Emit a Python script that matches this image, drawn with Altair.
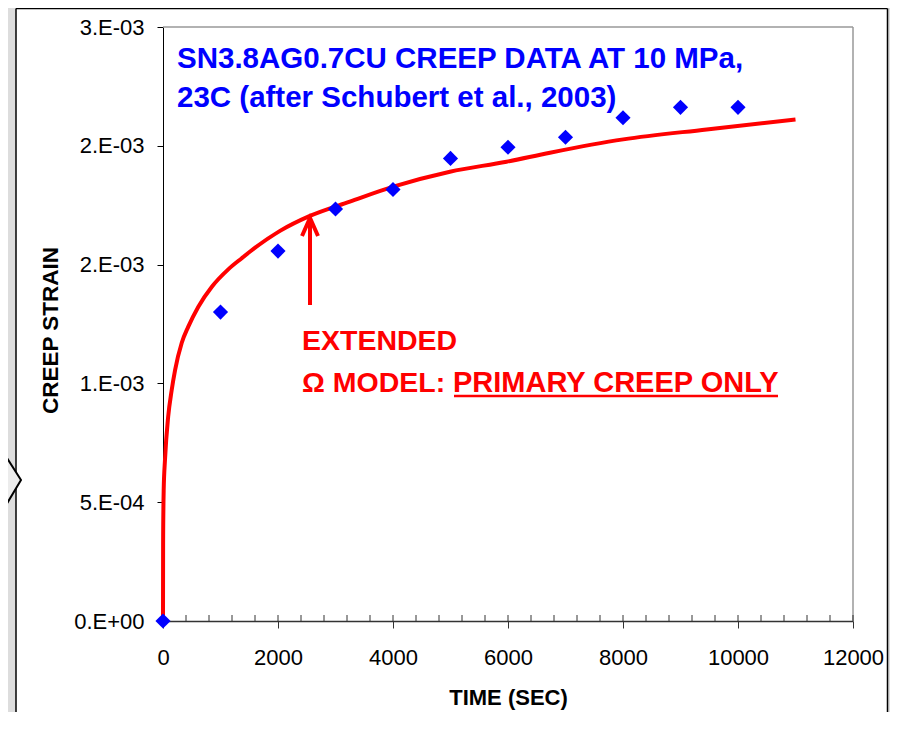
import altair as alt
import pandas as pd

# ---- data ----
data_time = [0, 1000, 2000, 3000, 4000, 5000, 6000, 7000, 8000, 9000, 10000]
data_strain = [0.0, 0.00130, 0.001557, 0.001734, 0.001816, 0.001947, 0.001994,
               0.002036, 0.002118, 0.002162, 0.002162]

model_time = [0, 2, 12, 35, 90, 150, 210, 325, 440, 615, 850, 1135, 1370, 1515,
              2035, 2555, 3250, 4005, 4990, 5975, 6730, 8005, 9455, 11000]
model_strain = [0.0, 0.00033, 0.00055, 0.00068, 0.00086, 0.00097, 0.001056,
                0.00117, 0.001239, 0.001323, 0.001407, 0.00148, 0.001527,
                0.001555, 0.001642, 0.001705, 0.001765, 0.001828, 0.001891,
                0.001933, 0.001971, 0.002027, 0.002069, 0.002111]

x_ticks = [0, 2000, 4000, 6000, 8000, 10000, 12000]
x_minor = list(range(400, 12001, 400))
y_ticks = [0.0, 0.0005, 0.001, 0.0015, 0.002, 0.0025]
y_tick_labels = ["0.E+00", "5.E-04", "1.E-03", "2.E-03", "2.E-03", "3.E-03"]

title_lines = ["SN3.8AG0.7CU CREEP DATA AT 10 MPa,", "23C (after Schubert et al., 2003)"]
note_line1 = "EXTENDED"
note_line2a = "\u03a9 MODEL:"
note_line2b = "PRIMARY CREEP ONLY"

W, H = 690, 594
FONT = "Liberation Sans"
BLUE = "#0000FF"
RED = "#FF0000"

pts = pd.DataFrame({"t": data_time, "s": data_strain})
model = pd.DataFrame({"t": model_time, "s": model_strain})
one = pd.DataFrame({"k": [0]})
minor = pd.DataFrame({"t": x_minor})

label_expr = "[" + ",".join("'%s'" % l for l in y_tick_labels) + "][round(datum.value/0.0005)]"

xscale = alt.Scale(domain=[0, 12000], nice=False, zero=False)
yscale = alt.Scale(domain=[0, 0.0025], nice=False)

xaxis = alt.Axis(values=x_ticks, format="d", title="TIME (SEC)", grid=False, labelFont=FONT,
                 labelFontSize=22, labelColor="black", labelPadding=19,
                 labelFlush=False, labelOverlap=False, tickSize=7, tickColor="#333333",
                 domainColor="#333333", domainWidth=1.5, titleFont=FONT,
                 titleFontSize=22, titleFontWeight="bold", titleColor="black",
                 titleY=83, titleBaseline="alphabetic")
yaxis = alt.Axis(values=y_ticks, labelExpr=label_expr, title="CREEP STRAIN", grid=False,
                 labelFont=FONT, labelFontSize=22, labelColor="black", labelPadding=13,
                 tickSize=6, tickColor="black", domainColor="black", domainWidth=1,
                 titleFont=FONT, titleFontSize=22.5, titleFontWeight="bold",
                 titleColor="black", titleX=-106, titleY=303, titleBaseline="alphabetic",
                 labelOverlap=False)

# ---- decorations (slide frame) ----
left_strip = alt.Chart(one).mark_rect(color="#dddddd").encode(
    x=alt.value(-160), x2=alt.value(-147), y=alt.value(-25), y2=alt.value(720))
right_strip = alt.Chart(one).mark_rect(color="#dddddd").encode(
    x=alt.value(725), x2=alt.value(760), y=alt.value(-25), y2=alt.value(720))
frame_l = alt.Chart(one).mark_rule(color="black", strokeWidth=1.5).encode(
    x=alt.value(-147), y=alt.value(-18.5), y2=alt.value(720))
frame_r = alt.Chart(one).mark_rule(color="black", strokeWidth=1.5).encode(
    x=alt.value(724.5), y=alt.value(-18.5), y2=alt.value(720))
frame_t = alt.Chart(one).mark_rule(color="black", strokeWidth=1.5).encode(
    x=alt.value(-147), x2=alt.value(724.5), y=alt.value(-18.5))
side_arrow = alt.Chart(one).mark_point(
    shape="M0,0L-25,-39.3L-25,41.7Z", size=4, filled=True, fill="#ececec",
    stroke="black", strokeWidth=2, opacity=1).encode(
    x=alt.value(-142), y=alt.value(453))

# ---- plot frame (top / right) ----
box_t = alt.Chart(one).mark_rule(color="#999999", strokeWidth=1.5).encode(
    x=alt.value(0), x2=alt.value(W), y=alt.value(0))
box_r = alt.Chart(one).mark_rule(color="#999999", strokeWidth=1.5).encode(
    x=alt.value(W), y=alt.value(0), y2=alt.value(H))

minor_ticks = alt.Chart(minor).mark_rule(color="#333333", strokeWidth=1).encode(
    x=alt.X("t:Q", scale=xscale, axis=xaxis), y=alt.value(H - 6), y2=alt.value(H))

line = alt.Chart(model).mark_line(color=RED, strokeWidth=4, interpolate="monotone").encode(
    x=alt.X("t:Q", scale=xscale, axis=xaxis),
    y=alt.Y("s:Q", scale=yscale, axis=yaxis))

points = alt.Chart(pts).mark_point(shape="diamond", filled=True, size=230,
                                   color=BLUE, opacity=1).encode(
    x=alt.X("t:Q", scale=xscale, axis=xaxis),
    y=alt.Y("s:Q", scale=yscale, axis=yaxis))

def txt(s, x, y, color, size):
    return alt.Chart(one).mark_text(text=s, font=FONT, fontSize=size, fontWeight="bold",
                                    color=color, align="left", baseline="alphabetic").encode(
        x=alt.value(x), y=alt.value(y))

t1 = txt(title_lines[0], 14, 41.3, BLUE, 29.5)
t2 = txt(title_lines[1], 14, 80, BLUE, 29.5)
n1 = txt(note_line1, 139, 323, RED, 28.5)
n2a = txt(note_line2a, 139, 364.7, RED, 28.5)
n2b = txt(note_line2b, 290, 364.7, RED, 29)
underline = alt.Chart(one).mark_rule(color=RED, strokeWidth=2.5).encode(
    x=alt.value(291), x2=alt.value(615), y=alt.value(369))

shaft = alt.Chart(one).mark_rule(color=RED, strokeWidth=4).encode(
    x=alt.value(147), y=alt.value(193), y2=alt.value(278))
head = alt.Chart(one).mark_point(shape="M-8,18L0,0L8,18", size=4, filled=False,
                                 stroke=RED, strokeWidth=4, opacity=1).encode(
    x=alt.value(147), y=alt.value(191))

chart = alt.layer(
    left_strip, right_strip, frame_l, frame_r, frame_t, side_arrow,
    box_t, box_r, minor_ticks, line, points, t1, t2, n1, n2a, n2b, underline, shaft, head
).properties(
    width=W, height=H,
    padding={"left": 155, "top": 19, "right": 37, "bottom": 91},
    autosize=alt.AutoSizeParams(type="none"),
    background="white",
).configure_view(stroke=None)

chart.save("out.html", embed_options={"renderer": "svg", "actions": False})
